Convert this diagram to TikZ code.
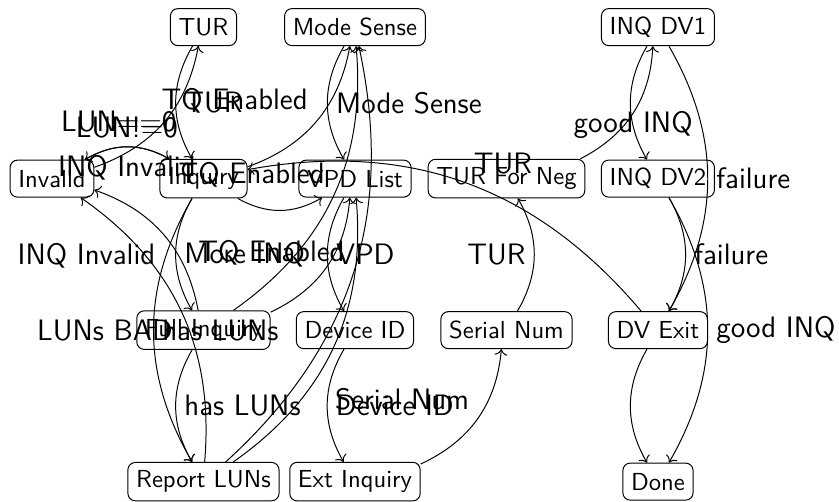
\documentclass[tikz,border=0pt]{standalone}
\usepackage{tikz}
\usetikzlibrary{arrows.meta}
\tikzset{
  state/.style={draw,rounded corners=3pt,minimum height=15pt,font=\sffamily},
  trans/.style={->},
  lbl/.style={font=\sffamily\large,auto},
  midlbl/.style={font=\sffamily\large}}
\begin{document}
\begin{tikzpicture}[x=2.16cm,y=2.16cm]
  \useasboundingbox (-0.343,0.179) rectangle (5.195,-3.132);
  % states on a grid
  \node[state] (tur) at (1,0) {TUR};
  \node[state] (mode) at (2,0) {Mode Sense};
  \node[state] (dvone) at (4,0) {INQ DV1};
  \node[state] (invalid) at (0,-1) {Invalid};
  \node[state] (inquiry) at (1,-1) {Inquiry};
  \node[state] (vpd) at (2,-1) {VPD List};
  \node[state] (turneg) at (3,-1) {TUR For Neg};
  \node[state] (dvtwo) at (4,-1) {INQ DV2};
  \node[state] (fullinq) at (1,-2) {Full Inquiry};
  \node[state] (devid) at (2,-2) {Device ID};
  \node[state] (serial) at (3,-2) {Serial Num};
  \node[state] (dvexit) at (4,-2) {DV Exit};
  \node[state] (luns) at (1,-3) {Report LUNs};
  \node[state] (extinq) at (2,-3) {Ext Inquiry};
  \node[state] (done) at (4,-3) {Done};
  % transitions
  \draw[trans] (invalid) to[bend right] node[lbl,xshift=8.5pt,yshift=-7.5pt] {LUN==0} (tur);
  \draw[trans] (invalid) to[bend left] node[lbl] {LUN!=0} (inquiry);
  \draw[trans] (tur) to[bend right] node[lbl] {TUR} (inquiry);
  \draw[trans] (inquiry) to[bend right] node[lbl] {INQ Invalid} (invalid);
  \draw[trans] (inquiry) to[bend right] node[lbl] {TQ Enabled} (mode);
  \draw[trans] (inquiry) to[bend right] (vpd);
  \draw[trans] (inquiry) to[bend right] node[lbl] {More INQ} (fullinq);
  \draw[trans] (inquiry) to[bend right] node[lbl] {has LUNs} (luns);
  \draw[trans] (fullinq) to[bend right] node[lbl] {INQ Invalid} (invalid);
  \draw[trans] (fullinq) to[bend right] node[lbl] {TQ Enabled} (mode);
  \draw[trans] (fullinq) to[bend right] (vpd);
  \draw[trans] (fullinq) to[bend right] node[lbl] {has LUNs} (luns);
  \draw[trans] (luns) to[bend right] node[lbl] {LUNs BAD} (invalid);
  \draw[trans] (luns) to[bend right] node[lbl] {TQ Enabled} (mode);
  \draw[trans] (luns) to[bend right] (vpd);
  \draw[trans] (mode) to[bend right] node[lbl] {Mode Sense} (vpd);
  \draw[trans] (vpd) to[bend right] node[lbl] {VPD} (devid);
  \draw[trans] (devid) to[bend right] node[lbl] {Device ID} (extinq);
  \draw[trans] (extinq) to[bend right] node[lbl] {Serial Num} (serial);
  \draw[trans] (serial) to[bend right] node[lbl] {TUR} (turneg);
  \draw[trans] (turneg) to[bend right] node[midlbl,yshift=-5pt] {good INQ} (dvone);
  \draw[trans] (dvone) to[bend right] (dvtwo);
  \draw[trans] (dvone) to[bend left] node[lbl] {failure} (dvexit);
  \draw[trans] (dvtwo) to[bend left] node[lbl] {failure} (dvexit);
  \draw[trans] (dvtwo) to[bend left] node[lbl] {good INQ} (done);
  \draw[trans] (dvexit) to[bend right] (done);
  \draw[trans] (dvexit) to[bend right] node[lbl,swap] {TUR} (inquiry);
\end{tikzpicture}
\end{document}
